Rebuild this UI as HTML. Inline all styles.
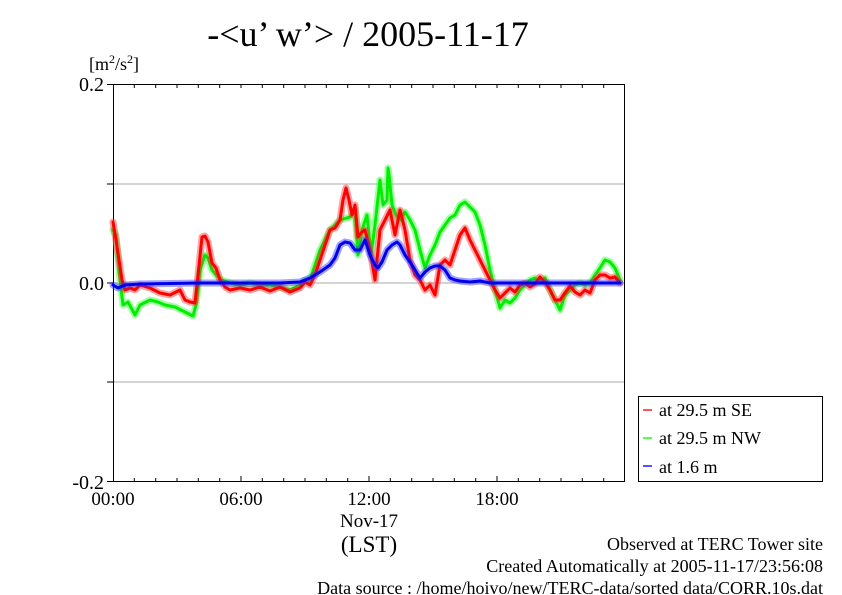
<!DOCTYPE html>
<html><head><meta charset="utf-8"><style>
body{margin:0;background:#fff}
svg{display:block}
text{font-family:"Liberation Serif",serif;fill:#000}
</style></head><body>
<svg width="842" height="595" viewBox="0 0 842 595">
<text x="368" y="46" font-size="36" text-anchor="middle">-&lt;u’ w’&gt; / 2005-11-17</text>
<text x="89" y="70" font-size="18">[m<tspan font-size="12" dy="-7">2</tspan><tspan dy="7">/s</tspan><tspan font-size="12" dy="-7">2</tspan><tspan dy="7">]</tspan></text>
<g stroke="#aaa" stroke-width="1">
<line x1="113" y1="184" x2="625" y2="184"/><line x1="113" y1="283" x2="625" y2="283"/><line x1="113" y1="382" x2="625" y2="382"/>
</g>
<g stroke="#000" stroke-width="1">
<path d="M113.5 84V482M624.5 84V482M113 84.5H625M113 481.5H625"/>
<path d="M107 84.5H113M107 184H113M107 283H113M107 382H113M107 481.5H113"/>
<path d="M134.3 84v4M155.7 84v4M177 84v4M198.3 84v4M219.7 84v4M241 84v4M262.3 84v4M283.7 84v4M305 84v4M326.3 84v4M347.7 84v4M369 84v4M390.3 84v4M411.7 84v4M433 84v4M454.3 84v4M475.7 84v4M497 84v4M518.3 84v4M539.7 84v4M561 84v4M582.3 84v4M603.7 84v4"/>
<path d="M134.3 482v-4M155.7 482v-4M177 482v-4M198.3 482v-4M219.7 482v-4M241 482v-6M262.3 482v-4M283.7 482v-4M305 482v-4M326.3 482v-4M347.7 482v-4M369 482v-6M390.3 482v-4M411.7 482v-4M433 482v-4M454.3 482v-4M475.7 482v-4M497 482v-6M518.3 482v-4M539.7 482v-4M561 482v-4M582.3 482v-4M603.7 482v-4"/>
</g>
<g font-size="20" text-anchor="end">
<text x="104" y="91">0.2</text><text x="104" y="290">0.0</text><text x="104" y="489">-0.2</text>
</g>
<g font-size="19" text-anchor="middle">
<text x="113" y="505">00:00</text><text x="241" y="505">06:00</text><text x="369" y="505">12:00</text><text x="497" y="505">18:00</text>
<text x="369" y="527">Nov-17</text>
</g>
<text x="369" y="552" font-size="23" text-anchor="middle">(LST)</text>
<g fill="none" stroke-linejoin="round" stroke-linecap="round">
<g><polyline stroke="#3f3" stroke-opacity="0.45" stroke-width="7" points="113,230 116,235 120,280 123,305 128,302 135,315 140,305 150,300 158,302 165,305 175,307 185,312 193,316 196,305 200,270 205,255 208,258 212,270 216,275 222,280 230,283 240,285 250,283 260,285 270,285 280,287 290,290 300,285 305,280 310,280 320,250 330,230 340,220 350,217 355,210 358,255 362,230 367,215 371,255 375,225 380,180 383,205 387,200 388,168 389,175 392,205 396,215 400,220 405,212 410,220 415,230 420,250 425,268 430,255 435,245 440,232 445,225 450,218 455,215 460,205 465,202 470,207 475,212 480,225 485,245 490,270 495,290 500,308 505,300 510,303 515,298 520,290 525,285 530,280 535,278 540,282 545,278 550,290 555,300 560,310 565,295 570,290 575,285 580,283 585,285 590,283 595,275 600,268 605,260 610,262 615,268 620,280"/>
<polyline stroke="#0e0" stroke-width="3" points="113,230 116,235 120,280 123,305 128,302 135,315 140,305 150,300 158,302 165,305 175,307 185,312 193,316 196,305 200,270 205,255 208,258 212,270 216,275 222,280 230,283 240,285 250,283 260,285 270,285 280,287 290,290 300,285 305,280 310,280 320,250 330,230 340,220 350,217 355,210 358,255 362,230 367,215 371,255 375,225 380,180 383,205 387,200 388,168 389,175 392,205 396,215 400,220 405,212 410,220 415,230 420,250 425,268 430,255 435,245 440,232 445,225 450,218 455,215 460,205 465,202 470,207 475,212 480,225 485,245 490,270 495,290 500,308 505,300 510,303 515,298 520,290 525,285 530,280 535,278 540,282 545,278 550,290 555,300 560,310 565,295 570,290 575,285 580,283 585,285 590,283 595,275 600,268 605,260 610,262 615,268 620,280"/></g>
<g><polyline stroke="#f33" stroke-opacity="0.45" stroke-width="7" points="113,222 116,240 119,260 122,280 125,290 130,288 135,290 140,285 150,288 160,293 170,295 180,290 185,300 190,302 195,303 197,285 202,237 205,236 208,242 212,263 216,268 220,280 225,287 230,290 240,288 250,290 260,287 270,291 280,287 290,292 300,288 305,282 310,285 315,275 320,260 325,245 330,230 335,228 340,220 343,200 346,188 349,200 352,215 355,205 358,237 362,232 365,230 370,250 375,280 380,230 385,220 390,210 395,235 400,210 405,230 410,260 415,275 420,280 425,290 430,285 435,295 440,265 445,260 450,265 455,250 460,235 465,228 470,240 475,250 480,260 485,270 490,280 495,290 500,298 505,293 510,288 515,292 520,285 525,283 530,287 535,284 540,277 545,282 550,290 555,300 560,300 565,293 570,286 575,292 580,295 585,290 590,293 595,280 600,275 605,275 610,278 615,277 620,283"/>
<polyline stroke="#f00" stroke-width="3" points="113,222 116,240 119,260 122,280 125,290 130,288 135,290 140,285 150,288 160,293 170,295 180,290 185,300 190,302 195,303 197,285 202,237 205,236 208,242 212,263 216,268 220,280 225,287 230,290 240,288 250,290 260,287 270,291 280,287 290,292 300,288 305,282 310,285 315,275 320,260 325,245 330,230 335,228 340,220 343,200 346,188 349,200 352,215 355,205 358,237 362,232 365,230 370,250 375,280 380,230 385,220 390,210 395,235 400,210 405,230 410,260 415,275 420,280 425,290 430,285 435,295 440,265 445,260 450,265 455,250 460,235 465,228 470,240 475,250 480,260 485,270 490,280 495,290 500,298 505,293 510,288 515,292 520,285 525,283 530,287 535,284 540,277 545,282 550,290 555,300 560,300 565,293 570,286 575,292 580,295 585,290 590,293 595,280 600,275 605,275 610,278 615,277 620,283"/></g>
<g><polyline stroke="#33f" stroke-opacity="0.45" stroke-width="7" points="113,285 118,288 125,285 140,284 200,283 280,283 300,282 305,280 310,278 315,275 320,272 330,265 335,258 340,245 345,242 350,243 355,250 360,250 365,240 370,255 375,265 378,268 382,262 387,250 392,245 397,242 400,245 405,255 410,262 415,270 420,278 425,272 430,268 435,266 440,266 445,270 450,278 455,280 460,281 470,282 480,281 490,283 620,283"/>
<polyline stroke="#00e" stroke-width="3" points="113,285 118,288 125,285 140,284 200,283 280,283 300,282 305,280 310,278 315,275 320,272 330,265 335,258 340,245 345,242 350,243 355,250 360,250 365,240 370,255 375,265 378,268 382,262 387,250 392,245 397,242 400,245 405,255 410,262 415,270 420,278 425,272 430,268 435,266 440,266 445,270 450,278 455,280 460,281 470,282 480,281 490,283 620,283"/></g>
</g>
<rect x="638.5" y="396.5" width="184" height="85" fill="#fff" stroke="#000"/>
<g stroke-width="2"><line x1="643" y1="410" x2="652" y2="410" stroke="#f55"/><line x1="643" y1="438" x2="652" y2="438" stroke="#5f5"/><line x1="643" y1="466" x2="652" y2="466" stroke="#55f"/></g>
<g font-size="18"><text x="659" y="416">at 29.5 m SE</text><text x="659" y="444">at 29.5 m NW</text><text x="659" y="473">at 1.6 m</text></g>
<g font-size="18" text-anchor="end">
<text x="823" y="550">Observed at TERC Tower site</text>
<text x="823" y="572">Created Automatically at 2005-11-17/23:56:08</text>
<text x="823" y="594">Data source : /home/hoivo/new/TERC-data/sorted  data/CORR.10s.dat</text>
</g>
</svg>
</body></html>
